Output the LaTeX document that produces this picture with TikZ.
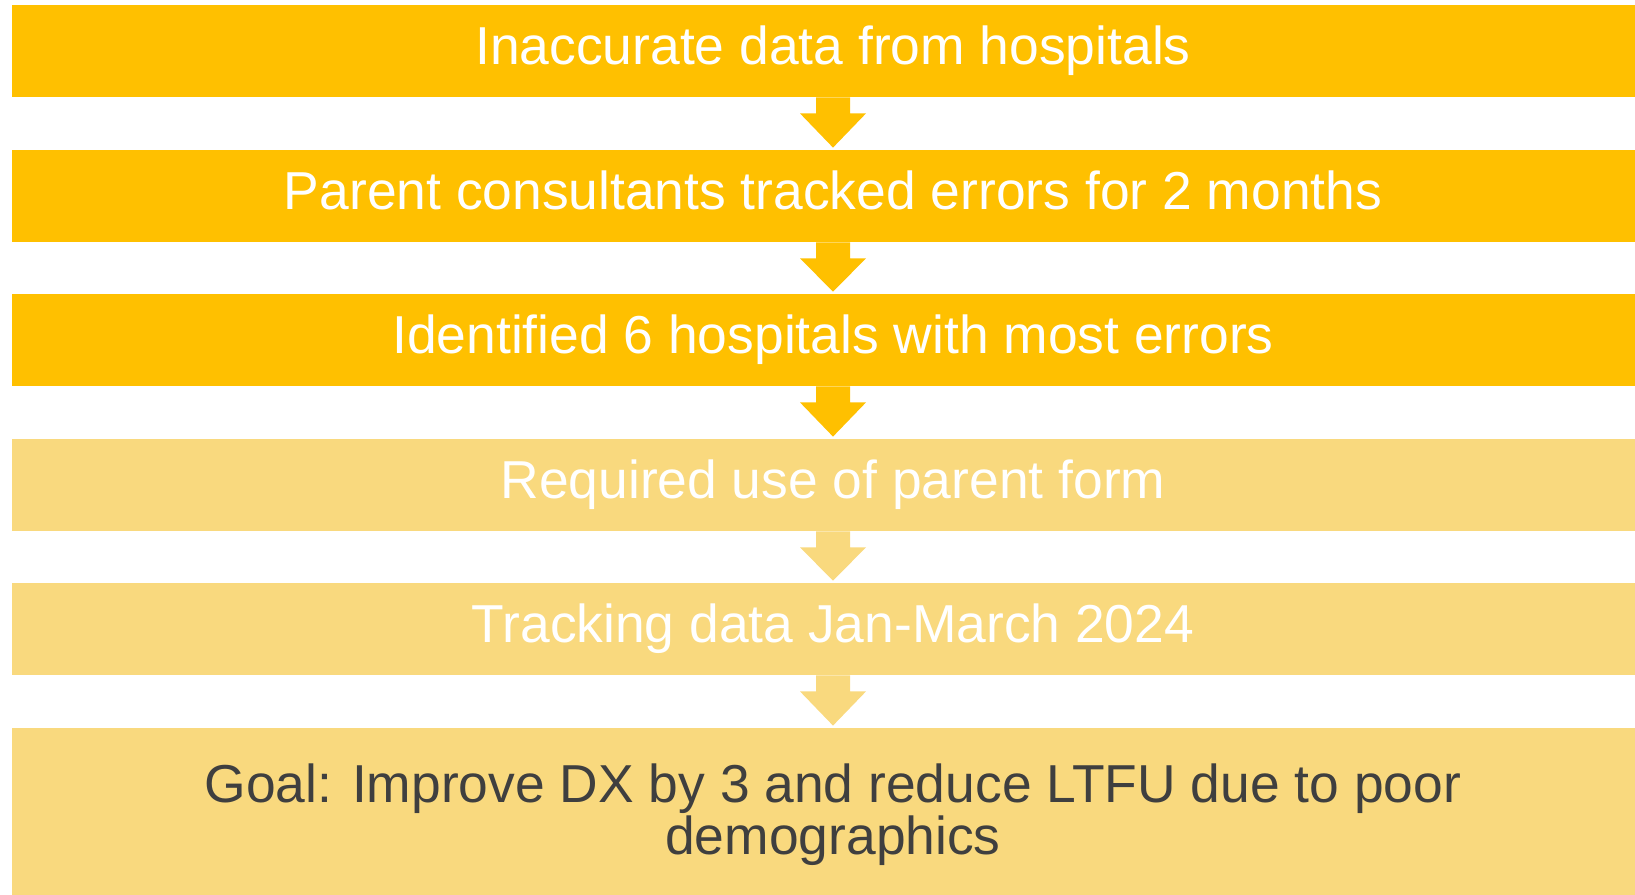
\documentclass[tikz,border=0pt]{standalone}
\usepackage{fontspec}
\setmainfont{Liberation Sans}
\usetikzlibrary{calc}

\definecolor{gold}{HTML}{FFC000}
\definecolor{palegold}{HTML}{F9D97E}
\definecolor{goaltext}{HTML}{3F3F3F}

\begin{document}
\begin{tikzpicture}[x=0.5pt, y=-0.5pt,
  stepbox/.style={minimum width=821.5pt, minimum height=46pt, inner sep=0pt,
    text=white, font=\fontsize{26.7}{26}\selectfont, text height=19.2pt, text depth=5.6pt, align=center},
  done/.style={stepbox, fill=gold},
  todo/.style={stepbox, fill=palegold}]
\useasboundingbox (0,0) rectangle (1635,895);
\clip (0,0) rectangle (1635,895);
\node[done] (b1) at (833,51) {Inaccurate data from hospitals};
\node[done] (b2) at (833,196) {Parent consultants tracked errors for 2 months};
\node[done] (b3) at (833,340) {Identified 6 hospitals with most errors};
\node[todo] (b4) at (833,485) {Required use of parent form};
\node[todo] (b5) at (833,629) {Tracking data Jan-March 2024};
\node[todo, minimum height=86.5pt, text=goaltext, text height=, text depth=] (b6) at (833,814.5)
  {Goal: Improve DX by 3 and reduce LTFU due to poor\\demographics};
\foreach \a/\b/\c in {b1/b2/gold, b2/b3/gold, b3/b4/gold, b4/b5/palegold, b5/b6/palegold}
  \fill[\c] ($(\a.south)+(-17,0)$) -- ++(0,16) -- ++(-16,0) -- ($(\b.north)+(0,-2)$)
    -- ($(\a.south)+(33,16)$) -- ++(-16,0) -- ++(0,-16) -- cycle;
\end{tikzpicture}
\end{document}
